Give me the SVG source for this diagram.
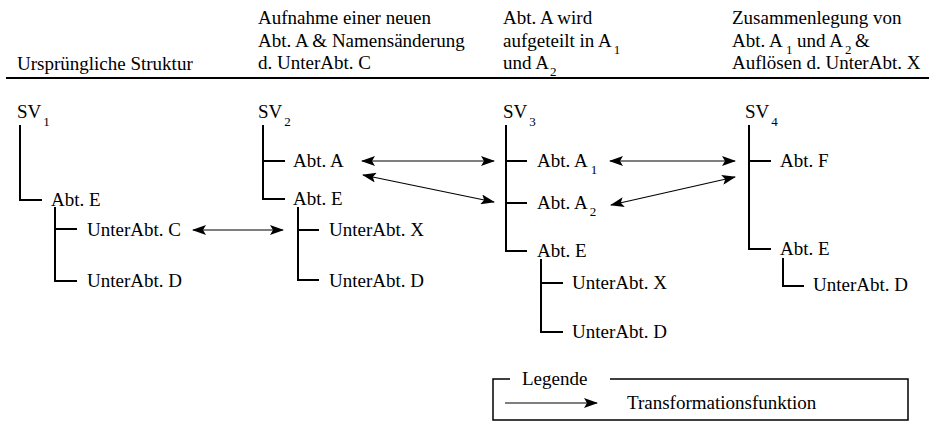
<svg xmlns="http://www.w3.org/2000/svg" width="929" height="426" viewBox="0 0 929 426">
<style>
text{font-family:"Liberation Serif","Times New Roman",serif;font-size:19px;fill:#000}
.sub{font-size:13px}
.tree{fill:none;stroke:#000;stroke-width:2}
.arr{fill:none;stroke:#000;stroke-width:1.2}
.rule{stroke:#000;stroke-width:2}
.box{fill:none;stroke:#000;stroke-width:1.5}
</style>
<defs>
<marker id="ah" viewBox="0 0 14 10" refX="13" refY="5" markerWidth="14" markerHeight="10" markerUnits="userSpaceOnUse" orient="auto-start-reverse">
<path d="M0,0 L14,5 L0,10 L3,5 z" fill="#000"/>
</marker>
</defs>
<rect width="929" height="426" fill="#fff"/>

<g id="headers">
<text x="17" y="70">Ursprüngliche Struktur</text>
<text x="258" y="24">Aufnahme einer  neuen</text>
<text x="258" y="47">Abt. A &amp; Namensänderung</text>
<text x="258" y="69">d. UnterAbt. C</text>
<text x="503" y="24">Abt. A wird</text>
<text x="503" y="47">aufgeteilt in A<tspan class="sub" dx="2" dy="7">1</tspan></text>
<text x="503" y="69">und A<tspan class="sub" dx="1" dy="7">2</tspan></text>
<text x="732" y="24">Zusammenlegung von</text>
<text x="732" y="47">Abt. A</text>
<text class="sub" x="786" y="54">1</text>
<text x="797" y="47">und A</text>
<text class="sub" x="845" y="54">2</text>
<text x="855" y="47">&amp;</text>
<text x="732" y="69">Auflösen d. UnterAbt. X</text>
<line class="rule" x1="6" y1="78" x2="929" y2="78"/>
</g>

<g id="sv1">
<text x="17" y="118">SV<tspan class="sub" dx="2" dy="8">1</tspan></text>
<path class="tree" d="M20,125 V200 H42"/>
<text x="51" y="206">Abt. E</text>
<path class="tree" d="M55,207 V281 H77 M55,229 H77"/>
<text x="87" y="236">UnterAbt. C</text>
<text x="87" y="287">UnterAbt. D</text>
</g>

<g id="sv2">
<text x="258" y="118">SV<tspan class="sub" dx="2" dy="8">2</tspan></text>
<path class="tree" d="M263,125 V199 H285 M263,161 H285"/>
<text x="293" y="167">Abt. A</text>
<text x="293" y="205">Abt. E</text>
<path class="tree" d="M298,207 V280 H319 M298,230 H319"/>
<text x="329" y="236">UnterAbt. X</text>
<text x="329" y="287">UnterAbt. D</text>
</g>

<g id="sv3">
<text x="503" y="118">SV<tspan class="sub" dx="2" dy="8">3</tspan></text>
<path class="tree" d="M506,125 V251 H527 M506,161 H527 M506,203 H527"/>
<text x="537" y="167">Abt. A<tspan class="sub" dx="3" dy="7">1</tspan></text>
<text x="537" y="209">Abt. A<tspan class="sub" dx="2" dy="7">2</tspan></text>
<text x="537" y="257">Abt. E</text>
<path class="tree" d="M541,259 V332 H563 M541,283 H563"/>
<text x="572" y="289">UnterAbt. X</text>
<text x="572" y="338">UnterAbt. D</text>
</g>

<g id="sv4">
<text x="745" y="118">SV<tspan class="sub" dx="2" dy="8">4</tspan></text>
<path class="tree" d="M749,125 V249 H771 M749,161 H771"/>
<text x="780" y="167">Abt. F</text>
<text x="780" y="255">Abt. E</text>
<path class="tree" d="M783,258 V286 H804"/>
<text x="813" y="291">UnterAbt. D</text>
</g>

<g id="connectors">
<line class="arr" x1="193" y1="230" x2="283" y2="230" marker-start="url(#ah)" marker-end="url(#ah)"/>
<line class="arr" x1="362" y1="161" x2="494" y2="161" marker-start="url(#ah)" marker-end="url(#ah)"/>
<line class="arr" x1="363" y1="175" x2="494" y2="202" marker-start="url(#ah)" marker-end="url(#ah)"/>
<line class="arr" x1="610" y1="161" x2="735" y2="161" marker-start="url(#ah)" marker-end="url(#ah)"/>
<line class="arr" x1="611" y1="205" x2="735" y2="177" marker-start="url(#ah)" marker-end="url(#ah)"/>
</g>

<g id="legend">
<path class="box" d="M510,379 H493 V420 H908 V379 H610"/>
<text x="522" y="385">Legende</text>
<line class="arr" x1="505" y1="403" x2="597" y2="403" marker-end="url(#ah)"/>
<text x="627" y="409">Transformationsfunktion</text>
</g>
</svg>
